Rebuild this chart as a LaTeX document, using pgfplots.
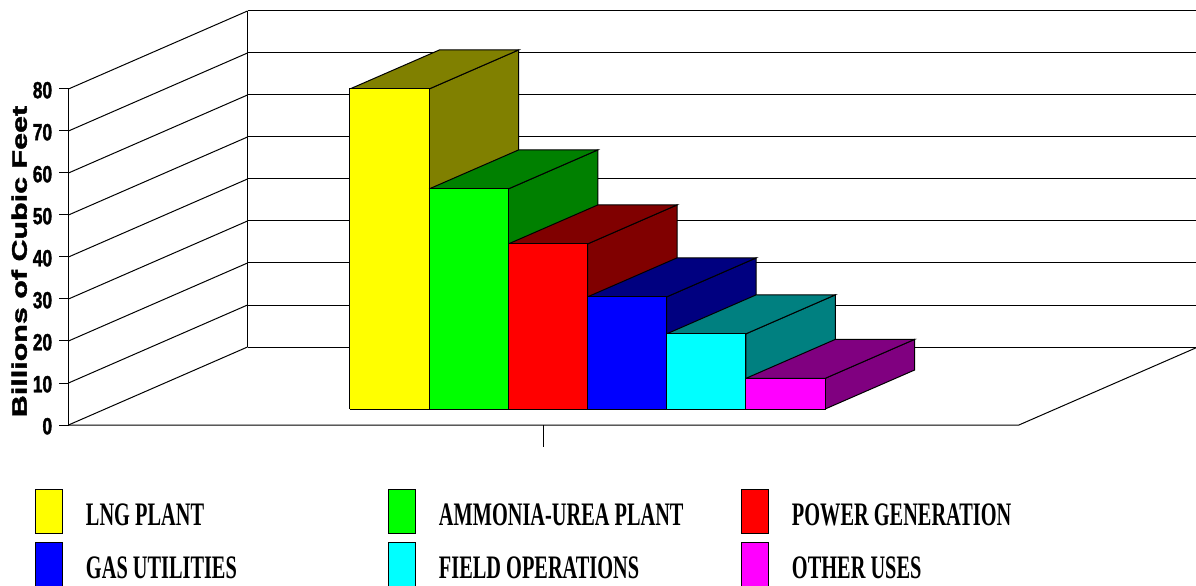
\documentclass[border=0pt]{standalone}
\usepackage{fontspec}
\setmainfont{Liberation Serif}
\newfontfamily\legfont[FakeStretch=0.62]{Liberation Serif}
\newfontfamily\tickfont[FakeStretch=0.74,FakeBold=1.5]{Liberation Sans}
\newfontfamily\labfont[FakeStretch=1.45,FakeBold=2]{Liberation Sans}
\usepackage{pgfplots}
\pgfplotsset{compat=1.18}
\definecolor{cYel}{HTML}{FFFF00}\definecolor{dYel}{HTML}{808000}
\definecolor{cGrn}{HTML}{00FF00}\definecolor{dGrn}{HTML}{008000}
\definecolor{cRed}{HTML}{FF0000}\definecolor{dRed}{HTML}{800000}
\definecolor{cBlu}{HTML}{0000FF}\definecolor{dBlu}{HTML}{000080}
\definecolor{cCya}{HTML}{00FFFF}\definecolor{dCya}{HTML}{008080}
\definecolor{cMag}{HTML}{FF00FF}\definecolor{dMag}{HTML}{800080}
% x0, x1, value, front colour, dark colour, legend text
\newcommand{\drawbar}[6]{%
 \addplot3[forget plot, fill=#5, draw=black, line width=0.5pt] coordinates {(#2,0.205,0) (#2,0.705,0) (#2,0.705,#3) (#2,0.205,#3) (#2,0.205,0)};
 \addplot3[forget plot, fill=#5, draw=black, line width=0.5pt] coordinates {(#1,0.205,#3) (#2,0.205,#3) (#2,0.705,#3) (#1,0.705,#3) (#1,0.205,#3)};
 \addplot3[fill=#4, draw=black, line width=0.5pt] coordinates {(#1,0.205,0) (#2,0.205,0) (#2,0.205,#3) (#1,0.205,#3) (#1,0.205,0)};
 \addlegendentry{\makebox[151pt][l]{#6}}
}
\begin{document}
\begin{tikzpicture}
\useasboundingbox (0,0) rectangle (598pt,292.5pt);
\begin{axis}[
  at={(34.25pt,80pt)}, anchor=origin,
  x={(39.6pt,0pt)}, y={(89.5pt,39pt)}, z={(0pt,2.1pt)},
  xmin=0, xmax=12, ymin=0, ymax=1, zmin=0, zmax=80,
  hide axis, clip=false,
  no marks,
  legend columns=3,
  legend image code/.code={\draw[#1,draw=black,line width=0.5pt] (0pt,-4pt) rectangle (13.5pt,18pt);},
  legend style={
    at={(axis cs:-0.423,0,-15.24)}, anchor=north west,
    draw=none, fill=none, inner sep=0pt, outer sep=0pt,
    row sep=4pt, column sep=0pt,
    cells={anchor=base west},
    nodes={inner sep=0pt, outer sep=0pt, text depth=0pt},
    /tikz/every odd column/.append style={column sep=11.5pt},
    /tikz/every even column/.append style={column sep=0pt},
    font=\legfont\bfseries\fontsize{16.4}{18}\selectfont,
  },
]
% walls and floor
\pgfplotsinvokeforeach{0,10,20,30,40,50,60,70,80}{
  \draw[black, line width=0.5pt] (axis cs:0,1,#1) -- (axis cs:12,1,#1);
  \draw[black, line width=0.5pt] (axis cs:0,0,#1) -- (axis cs:0,1,#1);
  \draw[black, line width=0.5pt] (axis cs:0,0,#1) -- ++(-5pt,0pt);
  \node[anchor=east, inner sep=0pt, font=\tickfont\bfseries\fontsize{11.7}{12}\selectfont] at ([xshift=-8pt,yshift=-0.6pt]axis cs:0,0,#1) {#1};
}
\draw[black, line width=0.5pt] (axis cs:0,0,0) -- (axis cs:0,0,80);
\draw[black, line width=0.5pt] (axis cs:0,1,0) -- (axis cs:0,1,80);
\draw[black, line width=0.5pt] (axis cs:0,0,0) -- (axis cs:12,0,0) -- (axis cs:12,1,0);
\draw[black, line width=0.6pt] (axis cs:6,0,0) -- ++(0pt,-11pt);
% bars
\drawbar{3.09}{4.09}{76.2}{cYel}{dYel}{LNG PLANT}
\drawbar{4.09}{5.09}{52.4}{cGrn}{dGrn}{AMMONIA-UREA PLANT}
\drawbar{5.09}{6.09}{39.3}{cRed}{dRed}{POWER GENERATION}
\drawbar{6.09}{7.09}{26.7}{cBlu}{dBlu}{GAS UTILITIES}
\drawbar{7.09}{8.09}{17.9}{cCya}{dCya}{FIELD OPERATIONS}
\drawbar{8.09}{9.09}{7.3}{cMag}{dMag}{OTHER USES}
\end{axis}
\node[rotate=90, inner sep=0pt, font=\labfont\bfseries\fontsize{10.5}{12}\selectfont] at (9.6pt,161.75pt) {Billions of Cubic Feet};
\end{tikzpicture}
\end{document}
